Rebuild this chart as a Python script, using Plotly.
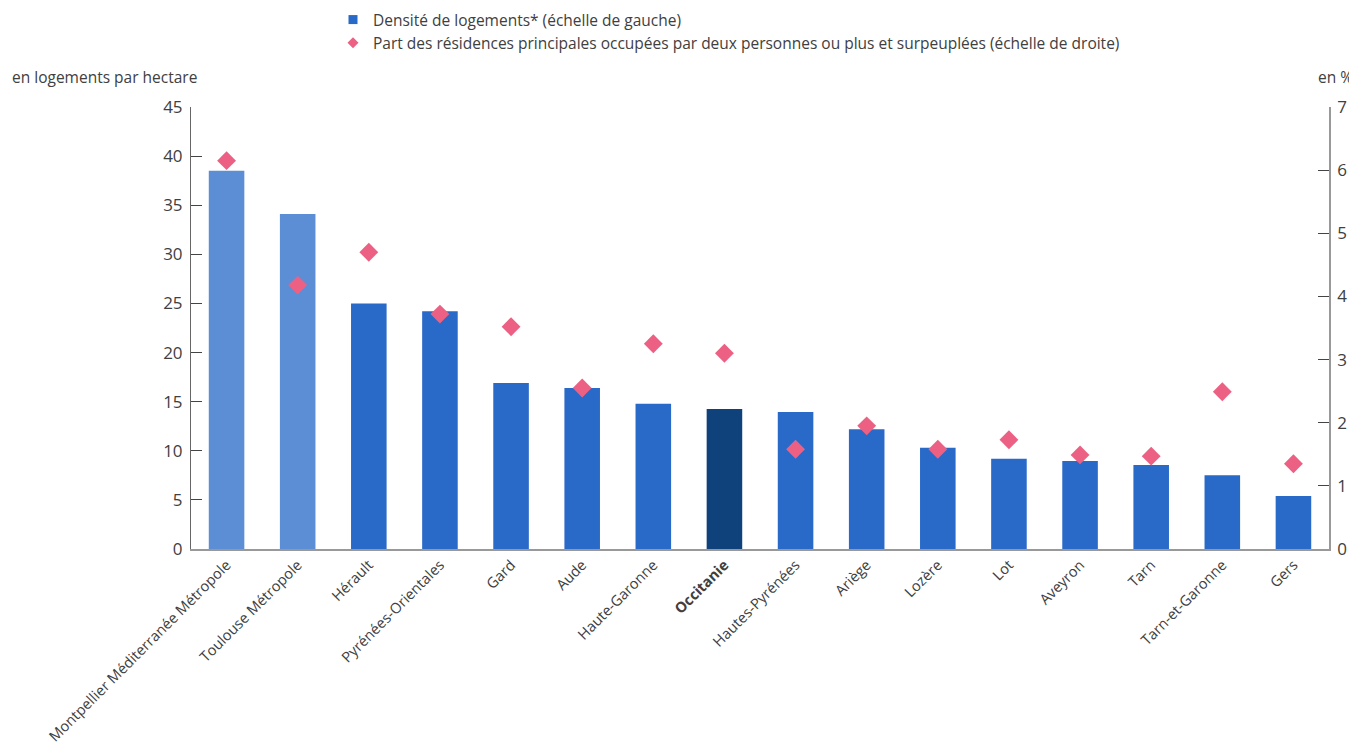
import plotly.graph_objects as go

categories = ["Montpellier Méditerranée Métropole", "Toulouse Métropole", "Hérault",
              "Pyrénées-Orientales", "Gard", "Aude", "Haute-Garonne", "Occitanie",
              "Hautes-Pyrénées", "Ariège", "Lozère", "Lot", "Aveyron", "Tarn",
              "Tarn-et-Garonne", "Gers"]
densite = [38.5, 34.1, 25.0, 24.2, 16.9, 16.4, 14.8, 14.25, 13.95, 12.2, 10.3, 9.2, 8.95, 8.55, 7.5, 5.4]
part_surpeuplees = [6.15, 4.18, 4.70, 3.72, 3.52, 2.55, 3.25, 3.10, 1.58, 1.95, 1.58, 1.73, 1.49, 1.47, 2.49, 1.35]
tick_labels = ["<b>Occitanie</b>" if c == "Occitanie" else c for c in categories]

name_bar = "Densité de logements* (échelle de gauche)"
name_pts = "Part des résidences principales occupées par deux personnes ou plus et surpeuplées (échelle de droite)"

bar_colors = []
for c in categories:
    if "Métropole" in c:
        bar_colors.append("#5b8ed5")
    elif c == "Occitanie":
        bar_colors.append("#0f417a")
    else:
        bar_colors.append("#2969c8")

font = "Open Sans, sans-serif"
txt = "#404040"
FS = 15.5

# page body has an 8px margin: draw the figure 8px smaller and shift all positions
OFF = 8
W, H = 1357 - OFF, 746 - OFF
L, R, T, B = 191 - OFF, 28, 107 - OFF, 197
pw = W - L - R
ph = H - T - B

def px_x(x):
    return (x - OFF - L) / pw

def px_y(y):
    return (H - B - (y - OFF)) / ph

fig = go.Figure()
fig.add_trace(go.Bar(
    x=categories, y=densite, name=name_bar, showlegend=False,
    marker=dict(color=bar_colors, line=dict(width=0)), width=0.5, yaxis="y",
))
fig.add_trace(go.Scatter(
    x=categories, y=part_surpeuplees, mode="markers", yaxis="y2",
    name=name_pts, showlegend=False,
    marker=dict(symbol="diamond", size=14.5, color="#ec6183"),
))
# legend entries with small swatches
fig.add_trace(go.Scatter(
    x=[None], y=[None], mode="markers", name=name_bar,
    marker=dict(symbol="square", size=9, color="#2969c8"),
))
fig.add_trace(go.Scatter(
    x=[None], y=[None], mode="markers", name=name_pts, yaxis="y2",
    marker=dict(symbol="diamond", size=8.5, color="#ec6183"),
))

fig.update_layout(
    width=W, height=H,
    margin=dict(l=L, r=R, t=T, b=B, autoexpand=False),
    paper_bgcolor="white", plot_bgcolor="white",
    font=dict(family=font, size=FS, color=txt),
    showlegend=True,
    legend=dict(x=px_x(333), y=px_y(3), xanchor="left", yanchor="top",
                orientation="v", font=dict(size=FS, color=txt), itemsizing="trace",
                tracegroupgap=0, traceorder="normal", bgcolor="rgba(0,0,0,0)",
                itemwidth=30),
    xaxis=dict(tickmode="array", tickvals=categories, ticktext=tick_labels, tickangle=-45,
               showline=True, linecolor="#999999", linewidth=1.5, ticks="",
               showgrid=False, tickfont=dict(size=14.6, color=txt), range=[-0.5, 15.5],
               automargin=False),
    yaxis=dict(range=[0, 45], dtick=5, showline=True, linecolor="#666666", linewidth=1,
               ticks="inside", ticklen=11, tickcolor="#444444", showgrid=False, zeroline=False,
               tickfont=dict(size=17, color=txt), automargin=False, ticklabelstandoff=4),
    yaxis2=dict(range=[0, 7], dtick=1, overlaying="y", side="right", showline=True,
                linecolor="#999999", linewidth=1.5, ticks="inside", ticklen=11, tickcolor="#444444",
                showgrid=False, zeroline=False, tickfont=dict(size=17, color=txt), automargin=False,
                ticklabelstandoff=3),
    annotations=[
        dict(text="en logements par hectare", x=px_x(10), y=px_y(77), xref="paper", yref="paper",
             showarrow=False, xanchor="left", yanchor="middle", font=dict(size=FS, color=txt)),
        dict(text="en %", x=px_x(1316), y=px_y(77), xref="paper", yref="paper",
             showarrow=False, xanchor="left", yanchor="middle", font=dict(size=FS, color=txt)),
    ],
)

fig.write_html("out.html")
